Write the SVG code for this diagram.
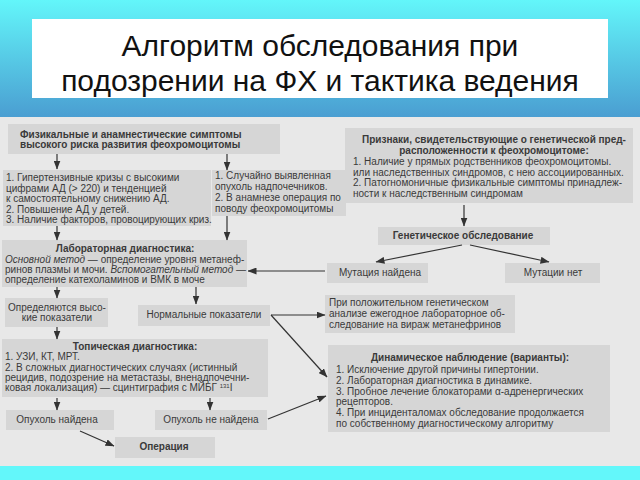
<svg xmlns="http://www.w3.org/2000/svg" width="640" height="480" viewBox="0 0 640 480">
<defs>
<linearGradient id="hdr" x1="0" y1="0" x2="0" y2="1">
<stop offset="0" stop-color="#63f6fa"/>
<stop offset="1" stop-color="#4a9dd1"/>
</linearGradient>
<marker id="ah" markerWidth="9" markerHeight="7" refX="8.5" refY="3.5" orient="auto" markerUnits="userSpaceOnUse">
<path d="M0,0 L9,3.5 L0,7 z" fill="#333"/>
</marker>
<style>
.box{fill:#d6d6d6}
.t{font-family:"Liberation Sans",Arial,sans-serif;font-size:10px;fill:#3a3a3a}
.b{font-weight:bold}
.c{text-anchor:middle}
.i{font-style:italic}
.title{font-family:"Liberation Sans",Arial,sans-serif;font-size:30px;fill:#111;text-anchor:middle}
.con line{stroke:#333;stroke-width:1.2;marker-end:url(#ah)}
</style>
</defs>
<rect x="0" y="0" width="640" height="118" fill="url(#hdr)"/>
<rect x="0" y="117" width="640" height="349" fill="#e8e8e8"/>
<rect x="0" y="466" width="640" height="14" fill="#63f7fa"/>
<g id="title">
<rect x="32" y="19" width="576" height="79" fill="#fff"/>
<text class="title" x="320" y="56">Алгоритм обследования при</text>
<text class="title" x="320" y="91">подозрении на ФХ и тактика ведения</text>
</g>
<g id="n-symptoms">
<rect class="box" x="8" y="124" width="272" height="30"/>
<text class="t b" x="20" y="137.5">Физикальные и анамнестические симптомы</text>
<text class="t b" x="20" y="147.5">высокого риска развития феохромоцитомы</text>
</g>
<g id="n-crises">
<rect class="box" x="3" y="170" width="208" height="56"/>
<text class="t" x="6" y="181">1. Гипертензивные кризы с высокими</text>
<text class="t" x="6" y="191.5">цифрами АД (&gt; 220) и тенденцией</text>
<text class="t" x="6" y="202">к самостоятельному снижению АД.</text>
<text class="t" x="6" y="212.5">2. Повышение АД у детей.</text>
<text class="t" x="6" y="223">3. Наличие факторов, провоцирующих криз.</text>
</g>
<g id="n-incidental">
<rect class="box" x="212" y="170" width="134" height="46"/>
<text class="t" x="215" y="179">1. Случайно выявленная</text>
<text class="t" x="215" y="190">опухоль надпочечников.</text>
<text class="t" x="215" y="201">2. В анамнезе операция по</text>
<text class="t" x="215" y="212">поводу феохромоцитомы</text>
</g>
<g id="n-genetic-signs">
<rect class="box" x="345" y="128" width="288" height="75"/>
<text class="t b c" x="494" y="142.5">Признаки, свидетельствующие о генетической пред-</text>
<text class="t b c" x="494" y="153.5">расположенности к феохромоцитоме:</text>
<text class="t" x="353" y="165">1. Наличие у прямых родственников феохромоцитомы.</text>
<text class="t" x="353" y="175.5">или наследственных синдромов, с нею ассоциированных.</text>
<text class="t" x="353" y="186">2. Патогномоничные физикальные симптомы принадлеж-</text>
<text class="t" x="353" y="196.5">ности к наследственным синдромам</text>
</g>
<g id="n-genetic-exam">
<rect class="box" x="378" y="227" width="172" height="18"/>
<text class="t b c" x="463" y="238.5">Генетическое обследование</text>
</g>
<g id="n-mut-found">
<rect class="box" x="327" y="263" width="101" height="20"/>
<text class="t c" x="380" y="275.5">Мутация найдена</text>
</g>
<g id="n-mut-none">
<rect class="box" x="505" y="263" width="95" height="20"/>
<text class="t c" x="553" y="275.5">Мутации нет</text>
</g>
<g id="n-lab">
<rect class="box" x="2" y="240" width="245" height="47"/>
<text class="t b c" x="125" y="251.5">Лабораторная диагностика:</text>
<text class="t" x="5" y="262.5"><tspan class="i">Основной метод</tspan> — определение уровня метанеф-</text>
<text class="t" x="5" y="272.5">ринов плазмы и мочи. <tspan class="i">Вспомогательный метод</tspan> —</text>
<text class="t" x="5" y="282.5">определение катехоламинов и ВМК в моче</text>
</g>
<g id="n-high">
<rect class="box" x="5" y="298" width="103" height="29"/>
<text class="t c" x="57" y="310.5">Определяются высо-</text>
<text class="t c" x="57" y="320.5">кие показатели</text>
</g>
<g id="n-normal">
<rect class="box" x="138" y="305" width="132" height="21"/>
<text class="t c" x="204" y="317.5">Нормальные показатели</text>
</g>
<g id="n-annual">
<rect class="box" x="325" y="295" width="190" height="38"/>
<text class="t" x="329" y="305.5">При положительном генетическом</text>
<text class="t" x="329" y="316.5">анализе ежегодное лабораторное об-</text>
<text class="t" x="329" y="327.5">следование на вираж метанефринов</text>
</g>
<g id="n-topical">
<rect class="box" x="2" y="339" width="266" height="58"/>
<text class="t b c" x="135" y="349.5">Топическая диагностика:</text>
<text class="t" x="5" y="359.5">1. УЗИ, КТ, МРТ.</text>
<text class="t" x="5" y="370.5">2. В сложных диагностических случаях (истинный</text>
<text class="t" x="5" y="380.5">рецидив, подозрение на метастазы, вненадпочечни-</text>
<text class="t" x="5" y="390.5">ковая локализация) — сцинтиграфия с МЙБГ <tspan font-size="6" dy="-3">131</tspan><tspan dy="3">I</tspan></text>
</g>
<g id="n-tumor-found">
<rect class="box" x="6" y="410" width="108" height="20"/>
<text class="t c" x="57" y="422.5">Опухоль найдена</text>
</g>
<g id="n-tumor-not-found">
<rect class="box" x="155" y="410" width="112" height="20"/>
<text class="t c" x="211" y="422.5">Опухоль не найдена</text>
</g>
<g id="n-operation">
<rect class="box" x="115" y="437" width="100" height="21"/>
<text class="t b c" x="164" y="449.5">Операция</text>
</g>
<g id="n-dynamic">
<rect class="box" x="328" y="345" width="282" height="87"/>
<text class="t b c" x="470" y="360.5">Динамическое наблюдение (варианты):</text>
<text class="t" x="336" y="372.5">1. Исключение другой причины гипертонии.</text>
<text class="t" x="336" y="383.5">2. Лабораторная диагностика в динамике.</text>
<text class="t" x="336" y="394.5">3. Пробное лечение блокаторами α-адренергических</text>
<text class="t" x="336" y="404.5">рецепторов.</text>
<text class="t" x="336" y="415.5">4. При инциденталомах  обследование продолжается</text>
<text class="t" x="336" y="426.5">по собственному диагностическому алгоритму</text>
</g>
<g id="connectors" class="con">
<line x1="57" y1="154" x2="57" y2="169"/>
<line x1="227" y1="154" x2="227" y2="170"/>
<line x1="57" y1="226" x2="57" y2="240"/>
<line x1="227" y1="216" x2="227" y2="240"/>
<line x1="464" y1="205" x2="464" y2="226"/>
<line x1="462" y1="245" x2="376" y2="262"/>
<line x1="470" y1="245" x2="549" y2="262"/>
<line x1="325" y1="271" x2="248" y2="271"/>
<line x1="57" y1="287" x2="57" y2="298"/>
<line x1="196" y1="287" x2="196" y2="304"/>
<line x1="57" y1="327" x2="57" y2="339"/>
<line x1="271" y1="315" x2="325" y2="315"/>
<line x1="271" y1="315" x2="327" y2="377"/>
<line x1="57" y1="398" x2="57" y2="410"/>
<line x1="210" y1="398" x2="210" y2="410"/>
<line x1="268" y1="419" x2="326" y2="396"/>
<line x1="80" y1="431" x2="114" y2="446"/>
</g>
</svg>
